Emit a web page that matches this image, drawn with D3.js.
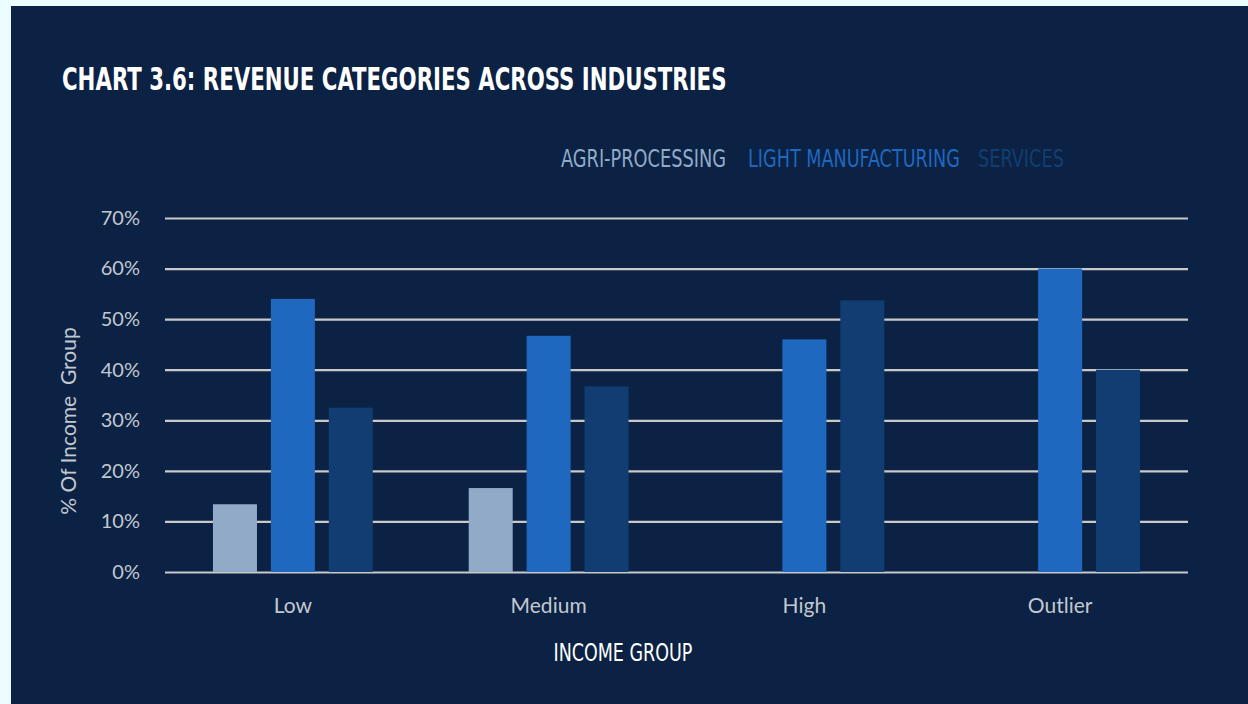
<!DOCTYPE html>
<html>
<head>
<meta charset="utf-8">
<script src="https://cdn.jsdelivr.net/npm/d3@7/dist/d3.min.js"></script>
<style>
  html, body { margin: 0; padding: 0; background: #ebfdff; }
  svg { display: block; }
</style>
</head>
<body>
<svg id="chart" width="1248" height="704"></svg>
<script>
// Income groups along the x axis
const categories = ["Low", "Medium", "High", "Outlier"];
// Industry series
const series = ["AGRI-PROCESSING", "LIGHT MANUFACTURING", "SERVICES"];
// Share of each income group (%) by industry; null = no bar
const agriProcessing     = [13.4, 16.6, null, null];
const lightManufacturing = [54.0, 46.7, 46.0, 60.0];
const services           = [32.5, 36.7, 53.7, 40.0];
// Y axis ticks (%)
const yTicks = [0, 10, 20, 30, 40, 50, 60, 70];

(function () {
const colors = ["#91aac8", "#1f68c0", "#113d72"];
const values = [agriProcessing, lightManufacturing, services];

const svg = d3.select("#chart");
const W = 1248, H = 704;

// dark panel
svg.append("rect").attr("x", 11).attr("y", 6).attr("width", W - 11).attr("height", H - 6)
  .attr("fill", "#0b2244");

const plotLeft = 165, plotRight = 1188, plotTop = 218, plotBottom = 572;

const x0 = d3.scaleBand().domain(categories).range([plotLeft, plotRight]).padding(0);
const bw = x0.bandwidth();
const x1 = d3.scaleBand().domain(series)
  .range([bw * 0.1875, bw * 0.8125]).paddingInner(0.24).paddingOuter(0);
const y = d3.scaleLinear().domain([0, 70]).range([plotBottom, plotTop]);

const narrow = "'Liberation Sans Narrow', 'DejaVu Sans Condensed', sans-serif";
const round = "Lato, 'Noto Sans', sans-serif";

// condensed headline text: squeeze horizontally to the given width
function condensed(px, py, txt, size, fill, width, anchor, weight) {
  const g = svg.append("g");
  const t = g.append("text")
    .attr("font-family", narrow)
    .attr("font-size", size)
    .attr("font-weight", weight || "normal")
    .attr("fill", fill)
    .text(txt);
  const natural = t.node().getComputedTextLength();
  const sx = width / natural;
  const left = anchor === "middle" ? px - width / 2 : px;
  g.attr("transform", `translate(${left},${py}) scale(${sx},1)`);
  return g;
}

// title
condensed(62, 90, "CHART 3.6: REVENUE CATEGORIES ACROSS INDUSTRIES", 32, "#ffffff", 665, "start", "bold");

// legend
const legendPos = [[561, 165], [748, 212], [978, 86]];
series.forEach((s, i) => condensed(legendPos[i][0], 167, s, 24, colors[i], legendPos[i][1], "start"));

// y axis with gridlines
const yAxis = d3.axisLeft(y).tickValues(yTicks).tickFormat(d => d + "%")
  .tickSize(-(plotRight - plotLeft)).tickPadding(25);
const gy = svg.append("g").attr("transform", `translate(${plotLeft},0)`).call(yAxis);
gy.select(".domain").remove();
gy.selectAll(".tick line").attr("stroke", "#c9c9c9").attr("stroke-width", 2.2);
gy.selectAll(".tick text")
  .attr("font-family", round)
  .attr("font-size", 20)
  .attr("fill", "#c3c8d0");

// bars
const groups = svg.append("g").selectAll("g").data(categories).join("g")
  .attr("transform", d => `translate(${x0(d)},0)`);
groups.selectAll("rect")
  .data((c, ci) => series.map((s, si) => ({ s, si, v: values[si][ci] })).filter(d => d.v != null))
  .join("rect")
  .attr("x", d => x1(d.s))
  .attr("width", x1.bandwidth())
  .attr("y", d => y(d.v))
  .attr("height", d => y(0) - y(d.v))
  .attr("fill", d => colors[d.si]);

// x axis labels
const xAxis = d3.axisBottom(x0).tickSize(0).tickPadding(26);
const gx = svg.append("g").attr("transform", `translate(0,${plotBottom})`).call(xAxis);
gx.select(".domain").remove();
gx.selectAll(".tick text")
  .attr("font-family", round)
  .attr("font-size", 21)
  .attr("fill", "#c3c8d0");

// axis titles
svg.append("text")
  .attr("transform", `translate(76,421) rotate(-90)`)
  .attr("text-anchor", "middle")
  .attr("font-family", round)
  .attr("font-size", 21)
  .attr("fill", "#c3c8d0")
  .attr("xml:space", "preserve")
  .text("% Of Income  Group");

condensed(623, 661, "INCOME GROUP", 25, "#ffffff", 139, "middle");
})();
</script>
</body>
</html>
